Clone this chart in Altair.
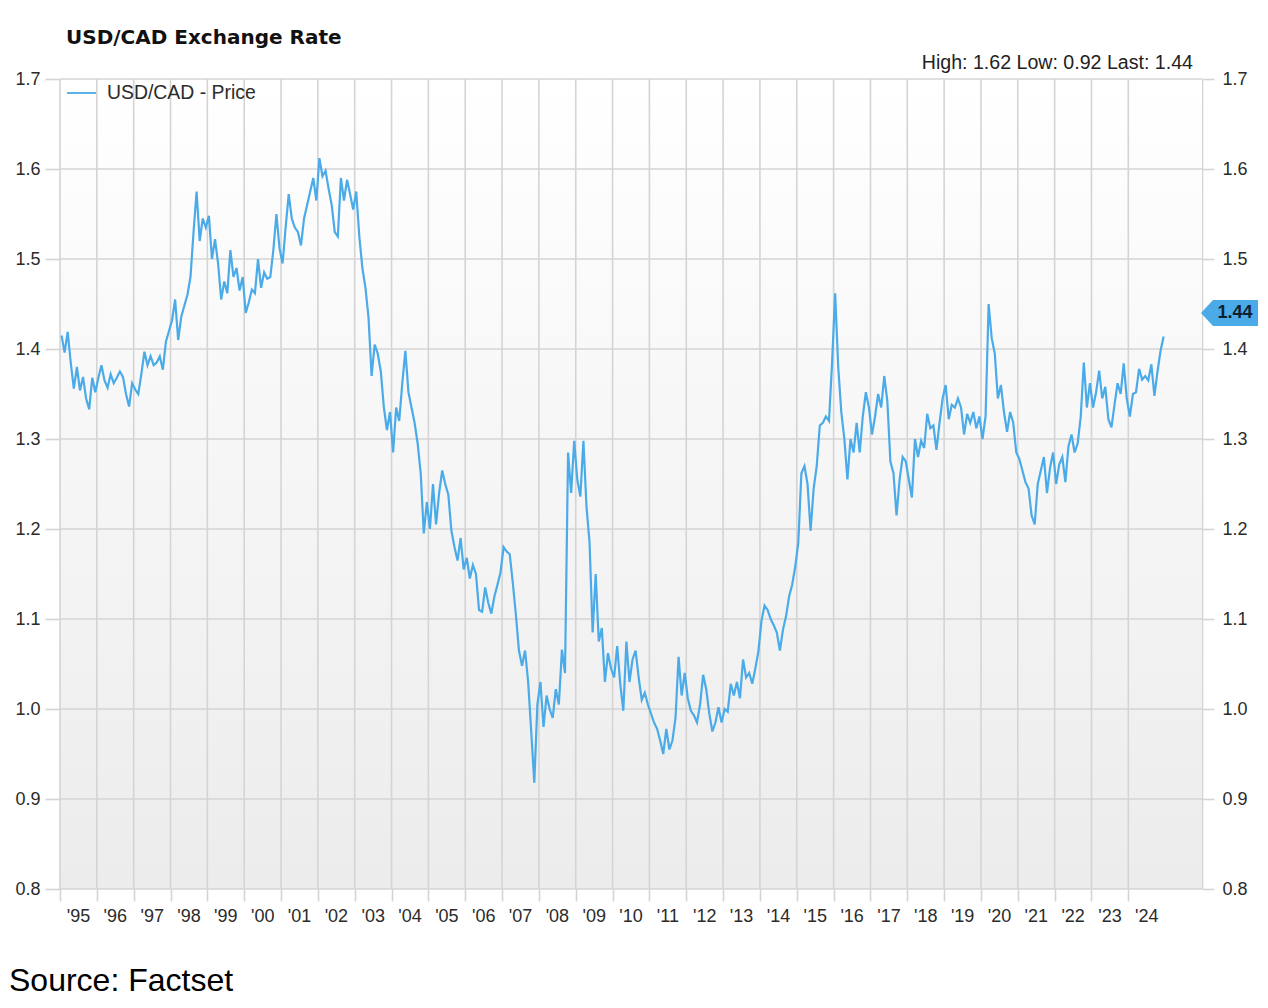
import altair as alt
import pandas as pd

# ---------------- data (monthly USD/CAD readings) ----------------
years = list(range(1995, 2025))

r1995 = [1.415, 1.396, 1.419, 1.385, 1.356, 1.380, 1.354, 1.369, 1.345, 1.333, 1.368, 1.352]
r1996 = [1.368, 1.382, 1.365, 1.357, 1.372, 1.362, 1.368, 1.375, 1.369, 1.350, 1.336, 1.362]
r1997 = [1.355, 1.350, 1.372, 1.397, 1.382, 1.392, 1.382, 1.385, 1.392, 1.377, 1.408, 1.420]
r1998 = [1.432, 1.455, 1.410, 1.436, 1.448, 1.460, 1.480, 1.530, 1.575, 1.520, 1.545, 1.535]
r1999 = [1.548, 1.500, 1.522, 1.495, 1.455, 1.475, 1.462, 1.510, 1.480, 1.490, 1.465, 1.480]
r2000 = [1.440, 1.452, 1.466, 1.462, 1.500, 1.468, 1.485, 1.478, 1.480, 1.510, 1.550, 1.512]
r2001 = [1.495, 1.535, 1.572, 1.545, 1.535, 1.530, 1.515, 1.545, 1.560, 1.575, 1.590, 1.565]
r2002 = [1.612, 1.592, 1.598, 1.578, 1.560, 1.530, 1.525, 1.590, 1.565, 1.588, 1.572, 1.555]
r2003 = [1.575, 1.525, 1.490, 1.468, 1.435, 1.370, 1.405, 1.395, 1.375, 1.335, 1.310, 1.330]
r2004 = [1.285, 1.335, 1.320, 1.362, 1.398, 1.352, 1.335, 1.318, 1.295, 1.262, 1.195, 1.230]
r2005 = [1.200, 1.250, 1.205, 1.240, 1.265, 1.250, 1.238, 1.198, 1.180, 1.165, 1.190, 1.155]
r2006 = [1.168, 1.145, 1.160, 1.150, 1.110, 1.108, 1.135, 1.118, 1.106, 1.125, 1.138, 1.152]
r2007 = [1.180, 1.175, 1.172, 1.140, 1.105, 1.065, 1.048, 1.065, 1.030, 0.975, 0.918, 1.005]
r2008 = [1.030, 0.980, 1.015, 1.000, 0.990, 1.022, 1.005, 1.066, 1.040, 1.285, 1.240, 1.298]
r2009 = [1.255, 1.236, 1.298, 1.225, 1.185, 1.085, 1.150, 1.075, 1.090, 1.030, 1.062, 1.045]
r2010 = [1.035, 1.070, 1.028, 0.998, 1.075, 1.030, 1.055, 1.065, 1.035, 1.010, 1.018, 1.005]
r2011 = [0.995, 0.985, 0.978, 0.965, 0.950, 0.978, 0.955, 0.965, 0.990, 1.058, 1.015, 1.040]
r2012 = [1.012, 0.998, 0.993, 0.985, 1.005, 1.038, 1.022, 0.995, 0.975, 0.985, 1.002, 0.985]
r2013 = [1.000, 0.997, 1.028, 1.015, 1.030, 1.012, 1.055, 1.035, 1.040, 1.028, 1.045, 1.064]
r2014 = [1.098, 1.115, 1.110, 1.100, 1.093, 1.085, 1.065, 1.088, 1.103, 1.125, 1.138, 1.158]
r2015 = [1.185, 1.262, 1.270, 1.250, 1.198, 1.245, 1.270, 1.315, 1.318, 1.325, 1.320, 1.385]
r2016 = [1.462, 1.380, 1.330, 1.300, 1.255, 1.300, 1.285, 1.318, 1.285, 1.325, 1.352, 1.335]
r2017 = [1.305, 1.325, 1.350, 1.335, 1.370, 1.342, 1.275, 1.262, 1.215, 1.255, 1.280, 1.275]
r2018 = [1.255, 1.235, 1.300, 1.280, 1.298, 1.290, 1.328, 1.312, 1.315, 1.288, 1.318, 1.345]
r2019 = [1.360, 1.322, 1.338, 1.335, 1.345, 1.335, 1.305, 1.328, 1.318, 1.330, 1.312, 1.325]
r2020 = [1.300, 1.325, 1.450, 1.412, 1.395, 1.345, 1.360, 1.330, 1.308, 1.330, 1.318, 1.285]
r2021 = [1.278, 1.265, 1.252, 1.245, 1.215, 1.205, 1.250, 1.265, 1.280, 1.240, 1.268, 1.285]
r2022 = [1.250, 1.272, 1.280, 1.252, 1.292, 1.305, 1.285, 1.295, 1.325, 1.385, 1.335, 1.362]
r2023 = [1.335, 1.352, 1.376, 1.345, 1.358, 1.322, 1.313, 1.338, 1.362, 1.350, 1.384, 1.345]
r2024 = [1.325, 1.350, 1.352, 1.378, 1.366, 1.370, 1.365, 1.383, 1.348, 1.375, 1.398, 1.414]

series = [r1995, r1996, r1997, r1998, r1999, r2000, r2001, r2002, r2003, r2004,
          r2005, r2006, r2007, r2008, r2009, r2010, r2011, r2012, r2013, r2014,
          r2015, r2016, r2017, r2018, r2019, r2020, r2021, r2022, r2023, r2024]

y_ticks = [0.8, 0.9, 1.0, 1.1, 1.2, 1.3, 1.4, 1.5, 1.6, 1.7]
last_value = 1.44
title_text = "USD/CAD Exchange Rate"
stats_text = "High: 1.62 Low: 0.92 Last: 1.44"
legend_text = "USD/CAD - Price"
source_text = "Source: Factset"

rows = []
for yr, vals in zip(years, series):
    for m, v in enumerate(vals):
        rows.append({"t": yr + (m + 0.5) / 12, "rate": v})
df = pd.DataFrame(rows)

# ---------------- styling ----------------
W, H = 1142, 810
GRID = "#d4d4d4"
BLUE = "#4aabe8"
FONT = "Liberation Sans"
LABEL = "#2b2b2b"

xs = alt.Scale(domain=[1995, 2026], nice=False, zero=False)
ys = alt.Scale(domain=[0.8, 1.7], nice=False, zero=False)

x_axis = alt.Axis(
    values=years, title=None, grid=False, domain=False,
    tickSize=12, tickColor=GRID, tickWidth=1.6,
    labelExpr="\"'\" + slice(toString(datum.value), 2)",
    labelOffset=18, labelPadding=6, labelFontSize=18, labelColor=LABEL,
    labelFont=FONT, labelOverlap=False, labelBound=False, labelFlush=False,
)

one = pd.DataFrame({"k": [0]})

bg = alt.Chart(one).mark_rect(
    color=alt.LinearGradient(
        gradient="linear",
        stops=[alt.GradientStop(color="#ffffff", offset=0),
               alt.GradientStop(color="#ececec", offset=1)],
        x1=0, x2=0, y1=0, y2=1,
    )
).encode(x=alt.value(0), x2=alt.value(W), y=alt.value(0), y2=alt.value(H))

vgrid = alt.Chart(pd.DataFrame({"t": years})).mark_rule(
    color=GRID, strokeWidth=1.6
).encode(x=alt.X("t:Q", scale=xs, axis=x_axis))

hgrid = alt.Chart(pd.DataFrame({"v": y_ticks})).mark_rule(
    color=GRID, strokeWidth=1.6
).encode(y=alt.Y("v:Q", scale=ys, axis=None))

line = alt.Chart(df).mark_line(color=BLUE, strokeWidth=2.2).encode(
    x=alt.X("t:Q", scale=xs, axis=x_axis),
    y=alt.Y("rate:Q", scale=ys, axis=alt.Axis(
        orient="left", values=y_ticks, format=".1f", title=None, grid=False,
        domain=False, tickSize=15, tickColor=GRID, tickWidth=1.6,
        labelPadding=5, labelFontSize=18, labelColor=LABEL, labelFont=FONT,
        labelOverlap=False, labelFlush=False,
    )),
)

callout = alt.Chart(one).mark_point(
    shape="M -1 0 L -0.58 -0.46 L 1 -0.46 L 1 0.46 L -0.58 0.46 Z",
    size=57 * 57, filled=True, fill=BLUE, opacity=1, strokeWidth=0,
).encode(
    x=alt.value(1169.5),
    y=alt.Y(datum=last_value, scale=ys, axis=alt.Axis(
        orient="right", values=y_ticks, format=".1f", title=None, grid=False,
        domain=True, domainColor=GRID, domainWidth=1.6,
        tickSize=12, tickColor=GRID, tickWidth=1.6,
        labelPadding=8, labelFontSize=18, labelColor=LABEL, labelFont=FONT,
        labelOverlap=False, labelFlush=False,
    )),
)

callout_text = alt.Chart(one).mark_text(
    text=f"{last_value:.2f}", font=FONT, fontWeight="bold", fontSize=18,
    color="#10202e", align="center", baseline="middle",
).encode(x=alt.value(1175), y=alt.Y(datum=last_value, scale=ys, axis=None))

legend_line = alt.Chart(one).mark_rule(color=BLUE, strokeWidth=1.8).encode(
    x=alt.value(7), x2=alt.value(36), y=alt.value(14)
)
legend_lbl = alt.Chart(one).mark_text(
    text=legend_text, font=FONT, fontSize=19.4, color=LABEL, align="left", baseline="middle"
).encode(x=alt.value(47), y=alt.value(14))

title = alt.Chart(one).mark_text(
    text=title_text, font="DejaVu Sans", fontWeight="bold", fontSize=20,
    color="#111111", align="left", baseline="alphabetic",
).encode(x=alt.value(6), y=alt.value(-35))

stats = alt.Chart(one).mark_text(
    text=stats_text, font=FONT, fontSize=19.6, color="#222222",
    align="right", baseline="alphabetic",
).encode(x=alt.value(1133), y=alt.value(-10))

source = alt.Chart(one).mark_text(
    text=source_text, font=FONT, fontSize=32, color="#000000",
    align="left", baseline="alphabetic",
).encode(x=alt.value(-51), y=alt.value(912))

chart = alt.layer(
    bg, vgrid, hgrid, line, legend_line, legend_lbl,
    callout, callout_text, title, stats, source,
).resolve_axis(y="independent").properties(
    width=W, height=H,
    padding={"left": 52, "top": 71, "right": 58, "bottom": 110},
    autosize=alt.AutoSizeParams(type="none"),
    background="#ffffff",
).configure_view(stroke="transparent")

chart.save("out.html", embed_options={"renderer": "svg", "actions": False})
